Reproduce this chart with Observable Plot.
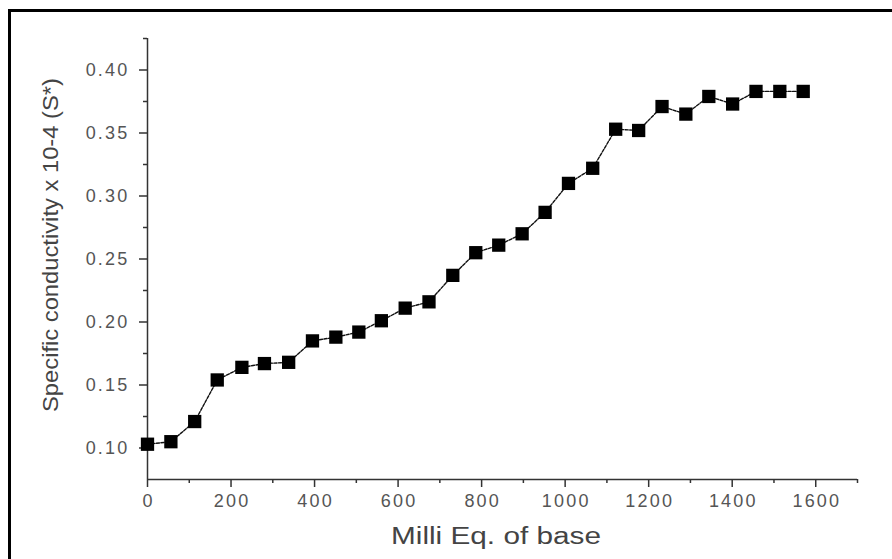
<!DOCTYPE html>
<html><head><meta charset="utf-8">
<script src="https://cdn.jsdelivr.net/npm/d3@7"></script>
<script src="https://cdn.jsdelivr.net/npm/@observablehq/plot@0.6"></script>
<style>
html,body{margin:0;padding:0;background:#fff;}
#wrap{position:relative;width:892px;height:559px;overflow:hidden;background:#fff;}
#frame{position:absolute;left:8px;top:9px;width:900px;height:600px;border:3px solid #000;box-sizing:border-box;}
#chart{position:absolute;left:0;top:0;}
</style></head><body>
<div id="wrap"><div id="frame"></div><div id="chart"></div></div>
<script>
// Milli Eq. of base
const base = [0, 56, 113, 167, 226, 280, 338, 395, 451, 506, 560, 617, 674, 731, 786,
  841, 897, 952, 1008, 1066, 1121, 1176, 1232, 1289, 1344, 1401, 1457, 1514, 1570];
// Specific conductivity x 10-4
const conductivity = [0.103, 0.105, 0.121, 0.154, 0.164, 0.167, 0.168, 0.185, 0.188, 0.192,
  0.201, 0.211, 0.216, 0.237, 0.255, 0.261, 0.270, 0.287, 0.310, 0.322,
  0.353, 0.352, 0.371, 0.365, 0.379, 0.373, 0.383, 0.383, 0.383];
const xMajor = [0, 200, 400, 600, 800, 1000, 1200, 1400, 1600];
const xMinor = [100, 300, 500, 700, 900, 1100, 1300, 1500, 1700];
const yMajor = [0.10, 0.15, 0.20, 0.25, 0.30, 0.35, 0.40];
const yMinor = [0.125, 0.175, 0.225, 0.275, 0.325, 0.375, 0.425];
const xTitle = "Milli Eq. of base";
const yTitle = "Specific conductivity x 10-4 (S*)";

const data = base.map((x, i) => ({x, y: conductivity[i]}));

const axisColor = "#333";
const labelColor = "#555";

const chart = Plot.plot({
  width: 892,
  height: 559,
  marginLeft: 147,
  marginRight: 35,
  marginTop: 38,
  marginBottom: 80,
  style: {background: "transparent", fontFamily: "'Liberation Sans', Arial, sans-serif"},
  x: {domain: [0, 1700]},
  y: {domain: [0.075, 0.425]},
  marks: [
    Plot.ruleX([0], {stroke: axisColor, strokeWidth: 1.5}),
    Plot.ruleY([0.075], {stroke: axisColor, strokeWidth: 1.5}),
    Plot.axisX(xMinor, {tickSize: 4, tickFormat: () => "", label: null, stroke: axisColor, strokeWidth: 1.5}),
    Plot.axisX(xMajor, {tickSize: 8, tickPadding: 7, fontSize: 18, fill: labelColor, stroke: axisColor,
      strokeWidth: 1.5, label: null, tickFormat: d => String(d)}),
    Plot.axisY(yMinor, {tickSize: 4, tickFormat: () => "", label: null, stroke: axisColor, strokeWidth: 1.5}),
    Plot.axisY(yMajor, {tickSize: 8, tickPadding: 10, fontSize: 18, fill: labelColor, stroke: axisColor,
      strokeWidth: 1.5, label: null, tickFormat: d3.format(".2f")}),
    Plot.line(data, {x: "x", y: "y", stroke: "#111", strokeWidth: 1.4, strokeDasharray: "3,1.5"}),
    Plot.dot(data, {x: "x", y: "y", symbol: "square", r: 7.5, fill: "#000", stroke: "none"})
  ]
});

const svg = d3.select(chart);
svg.selectAll('g[aria-label="x-axis tick label"] text').attr("letter-spacing", 2.2).attr("dx", 1.1);
svg.selectAll('g[aria-label="y-axis tick label"] text').attr("letter-spacing", 2.2);

svg.append("text")
  .attr("x", 496).attr("y", 544)
  .attr("text-anchor", "middle")
  .attr("font-size", 23)
  .attr("fill", "#444")
  .attr("textLength", 210)
  .attr("lengthAdjust", "spacingAndGlyphs")
  .text(xTitle);

svg.append("text")
  .attr("transform", "translate(58,245) rotate(-90)")
  .attr("text-anchor", "middle")
  .attr("font-size", 22)
  .attr("fill", "#444")
  .attr("textLength", 334)
  .attr("lengthAdjust", "spacingAndGlyphs")
  .text(yTitle);

document.getElementById("chart").appendChild(chart);
</script>
</body></html>
